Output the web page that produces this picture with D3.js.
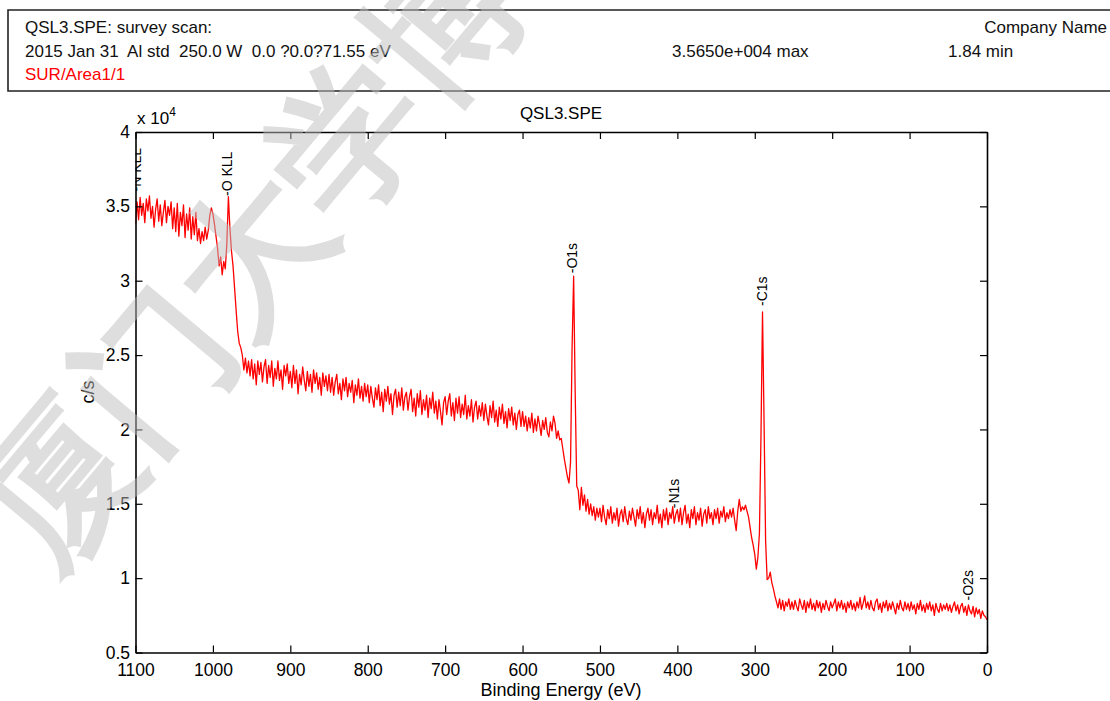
<!DOCTYPE html>
<html>
<head>
<meta charset="utf-8">
<script src="https://cdn.jsdelivr.net/npm/d3@7"></script>
<style>
  body { margin: 0; background: #fff; }
  svg text { font-family: "Liberation Sans", Arial, sans-serif; }
</style>
</head>
<body>
<div id="chart"></div>
<script>
// survey scan, binding energy grid 1100 -> 0 eV
const beStart = 1100
const beStep = 2

// counts in units of 1e4 c/s, one value per grid point
const countsE4 = [
  3.38, 3.53, 3.41, 3.56, 3.44, 3.52, 3.39, 3.55, 3.47, 3.57, 3.42, 3.50, 3.36, 3.48, 3.55, 3.40, 3.51, 3.37, 3.46, 3.54, 3.39, 3.50, 3.44, 3.53, 3.35,
  3.49, 3.33, 3.52, 3.30, 3.46, 3.37, 3.51, 3.29, 3.45, 3.34, 3.49, 3.28, 3.43, 3.31, 3.46, 3.27, 3.35, 3.25, 3.33, 3.27, 3.36, 3.28, 3.34, 3.44, 3.49,
  3.45, 3.38, 3.30, 3.22, 3.10, 3.16, 3.04, 3.13, 3.08, 3.25, 3.565, 3.35, 3.20, 3.10, 2.95, 2.80, 2.66, 2.58, 2.55, 2.50, 2.40, 2.48, 2.38, 2.46, 2.36,
  2.47, 2.34, 2.44, 2.30, 2.46, 2.37, 2.45, 2.32, 2.42, 2.47, 2.31, 2.43, 2.35, 2.46, 2.29, 2.41, 2.34, 2.46, 2.33, 2.40, 2.27, 2.43, 2.36, 2.44, 2.31,
  2.39, 2.28, 2.43, 2.31, 2.40, 2.24, 2.37, 2.30, 2.42, 2.33, 2.26, 2.39, 2.29, 2.37, 2.25, 2.40, 2.31, 2.38, 2.27, 2.35, 2.23, 2.38, 2.29, 2.36, 2.26,
  2.37, 2.25, 2.35, 2.23, 2.32, 2.37, 2.24, 2.31, 2.20, 2.34, 2.26, 2.35, 2.22, 2.31, 2.25, 2.33, 2.18, 2.30, 2.23, 2.34, 2.21, 2.29, 2.19, 2.31, 2.22,
  2.30, 2.18, 2.29, 2.21, 2.15, 2.28, 2.20, 2.30, 2.16, 2.25, 2.12, 2.27, 2.19, 2.29, 2.17, 2.24, 2.10, 2.23, 2.27, 2.15, 2.25, 2.16, 2.28, 2.13, 2.22,
  2.25, 2.13, 2.22, 2.27, 2.12, 2.21, 2.09, 2.24, 2.15, 2.26, 2.10, 2.20, 2.13, 2.23, 2.08, 2.21, 2.14, 2.25, 2.11, 2.19, 2.07, 2.20, 2.12, 2.03, 2.18,
  2.22, 2.10, 2.19, 2.24, 2.09, 2.18, 2.06, 2.21, 2.11, 2.22, 2.08, 2.17, 2.10, 2.23, 2.07, 2.16, 2.09, 2.20, 2.05, 2.15, 2.19, 2.07, 2.16, 2.09, 2.18,
  2.06, 2.17, 2.09, 2.03, 2.16, 2.08, 2.19, 2.05, 2.13, 2.02, 2.15, 2.07, 2.17, 2.04, 2.12, 2.01, 2.14, 2.06, 2.15, 2.03, 2.11, 2.00, 2.10, 2.13, 2.02,
  2.12, 2.02, 2.09, 1.99, 2.08, 2.01, 2.11, 1.98, 2.07, 1.99, 2.09, 2.03, 1.96, 2.06, 2.00, 2.08, 1.98, 1.95, 2.05, 1.99, 2.09, 2.04, 1.94, 1.99, 1.93,
  1.94, 1.87, 1.80, 1.74, 1.68, 1.64, 1.78, 2.55, 3.03, 2.25, 1.62, 1.59, 1.46, 1.61, 1.49, 1.56, 1.45, 1.53, 1.43, 1.50, 1.42, 1.48, 1.39, 1.47, 1.41,
  1.47, 1.38, 1.49, 1.41, 1.36, 1.46, 1.40, 1.48, 1.37, 1.44, 1.39, 1.47, 1.35, 1.43, 1.46, 1.38, 1.48, 1.40, 1.36, 1.45, 1.39, 1.47, 1.41, 1.35, 1.46,
  1.40, 1.48, 1.37, 1.44, 1.34, 1.43, 1.47, 1.39, 1.46, 1.36, 1.44, 1.40, 1.49, 1.37, 1.43, 1.34, 1.46, 1.39, 1.47, 1.36, 1.44, 1.40, 1.48, 1.37, 1.43,
  1.46, 1.38, 1.47, 1.36, 1.44, 1.49, 1.37, 1.43, 1.34, 1.46, 1.40, 1.48, 1.36, 1.44, 1.39, 1.47, 1.35, 1.43, 1.46, 1.37, 1.48, 1.40, 1.44, 1.36, 1.46,
  1.40, 1.47, 1.37, 1.45, 1.41, 1.48, 1.38, 1.44, 1.40, 1.46, 1.41, 1.47, 1.39, 1.32, 1.45, 1.53, 1.45, 1.48, 1.46, 1.49, 1.45, 1.41, 1.34, 1.27, 1.22,
  1.16, 1.06, 1.14, 1.30, 1.95, 2.79, 2.05, 1.25, 0.99, 1.00, 1.04, 0.97, 0.93, 0.88, 0.84, 0.80, 0.86, 0.79, 0.85, 0.78, 0.84, 0.81, 0.86, 0.79, 0.84,
  0.79, 0.85, 0.81, 0.78, 0.86, 0.82, 0.79, 0.85, 0.77, 0.84, 0.80, 0.86, 0.79, 0.83, 0.78, 0.85, 0.80, 0.84, 0.77, 0.83, 0.79, 0.85, 0.81, 0.78, 0.84,
  0.80, 0.83, 0.86, 0.78, 0.84, 0.80, 0.85, 0.79, 0.83, 0.77, 0.84, 0.80, 0.85, 0.79, 0.83, 0.78, 0.84, 0.80, 0.87, 0.79, 0.83, 0.88, 0.80, 0.84, 0.79,
  0.85, 0.80, 0.78, 0.84, 0.86, 0.79, 0.83, 0.77, 0.84, 0.80, 0.85, 0.78, 0.83, 0.79, 0.84, 0.80, 0.76, 0.83, 0.79, 0.85, 0.80, 0.78, 0.84, 0.79, 0.83,
  0.78, 0.84, 0.79, 0.82, 0.76, 0.83, 0.79, 0.85, 0.78, 0.82, 0.77, 0.83, 0.79, 0.84, 0.78, 0.82, 0.75, 0.83, 0.79, 0.77, 0.83, 0.78, 0.82, 0.79, 0.83,
  0.78, 0.82, 0.77, 0.81, 0.84, 0.78, 0.82, 0.76, 0.81, 0.83, 0.77, 0.81, 0.75, 0.82, 0.78, 0.76, 0.81, 0.74, 0.80, 0.76, 0.79, 0.73, 0.78, 0.75, 0.74,
  0.72
]

const xTicks = [1100, 1000, 900, 800, 700, 600, 500, 400, 300, 200, 100, 0]
const yTicks = [0.5, 1, 1.5, 2, 2.5, 3, 3.5, 4]

// peak labels: name, binding energy, height (1e4 c/s) where the label starts
const peakNames = ['-N KLL', '-O KLL', '-O1s', '-N1s', '-C1s', '-O2s']
const peakEnergies = [1099, 982, 536, 404, 290, 25]
const peakLevels = [3.60, 3.57, 3.05, 1.47, 2.83, 0.85]

const headerLine1 = 'QSL3.SPE: survey scan:'
const headerLine2 = '2015 Jan 31  Al std  250.0 W  0.0 ?0.0?71.55 eV'
const headerLine3 = 'SUR/Area1/1'
const headerMax = '3.5650e+004 max'
const headerTime = '1.84 min'
const headerCompany = 'Company Name'
const watermark = '厦门大学博硕'

const width = 1110
const height = 701
const plot = { left: 135.5, right: 987, top: 132, bottom: 652.5 }

const svg = d3.select('#chart')
  .append('svg')
  .attr('width', width)
  .attr('height', height)

const data = countsE4.map((v, i) => ({ be: beStart - i * beStep, v }))

const x = d3.scaleLinear().domain([1100, 0]).range([plot.left, plot.right])
const y = d3.scaleLinear().domain([0.5, 4]).range([plot.bottom, plot.top])

// header box
svg.append('path')
  .attr('d', `M${width + 5},10 H8 V91 H${width + 5}`)
  .attr('fill', 'none')
  .attr('stroke', '#222')
  .attr('stroke-width', 1.6)

const header = svg.append('g')
  .attr('font-size', 17)
  .attr('fill', '#111')

header.append('text').attr('x', 25).attr('y', 33).text(headerLine1)
header.append('text').attr('x', 25).attr('y', 57).attr('xml:space', 'preserve').text(headerLine2)
header.append('text').attr('x', 25).attr('y', 80).attr('fill', '#ff0000').text(headerLine3)
header.append('text').attr('x', 672).attr('y', 57).text(headerMax)
header.append('text').attr('x', 948).attr('y', 57).text(headerTime)
header.append('text').attr('x', 1107).attr('y', 33).attr('text-anchor', 'end').text(headerCompany)

// clip for the trace and the labels
svg.append('clipPath')
  .attr('id', 'plotClip')
  .append('rect')
  .attr('x', plot.left)
  .attr('y', plot.top)
  .attr('width', plot.right - plot.left)
  .attr('height', plot.bottom - plot.top)

const line = d3.line()
  .x(d => x(d.be))
  .y(d => y(d.v))

svg.append('path')
  .datum(data)
  .attr('clip-path', 'url(#plotClip)')
  .attr('fill', 'none')
  .attr('stroke', '#ff0000')
  .attr('stroke-width', 1.3)
  .attr('stroke-linejoin', 'round')
  .attr('d', line)

// axes, ticks pointing inward on all four sides
function styleAxis (g) {
  g.selectAll('path.domain').attr('stroke', '#000').attr('stroke-width', 1.6)
  g.selectAll('.tick line').attr('stroke', '#000').attr('stroke-width', 1.2)
  g.selectAll('.tick text').attr('fill', '#000').attr('font-size', 17.5)
    .attr('font-family', '"Liberation Sans", Arial, sans-serif')
}

svg.append('g')
  .attr('transform', `translate(0,${plot.bottom})`)
  .call(d3.axisBottom(x).tickValues(xTicks).tickSizeInner(-7).tickSizeOuter(0).tickPadding(11.5).tickFormat(d3.format('d')))
  .call(styleAxis)

svg.append('g')
  .attr('transform', `translate(0,${plot.top})`)
  .call(d3.axisTop(x).tickValues(xTicks).tickSizeInner(-7).tickSizeOuter(0).tickFormat(''))
  .call(styleAxis)

svg.append('g')
  .attr('transform', `translate(${plot.left},0)`)
  .call(d3.axisLeft(y).tickValues(yTicks).tickSizeInner(-7).tickSizeOuter(0).tickPadding(5.5).tickFormat(d3.format('')))
  .call(styleAxis)

svg.append('g')
  .attr('transform', `translate(${plot.right},0)`)
  .call(d3.axisRight(y).tickValues(yTicks).tickSizeInner(-7).tickSizeOuter(0).tickFormat(''))
  .call(styleAxis)

// peak labels
svg.append('g')
  .attr('clip-path', 'url(#plotClip)')
  .selectAll('text')
  .data(peakNames)
  .join('text')
  .attr('transform', (d, i) => `translate(${x(peakEnergies[i])},${y(peakLevels[i])}) rotate(-90)`)
  .attr('dy', '0.35em')
  .attr('font-size', 14)
  .attr('fill', '#000')
  .text(d => d)

// titles
svg.append('text')
  .attr('x', 561).attr('y', 119)
  .attr('text-anchor', 'middle')
  .attr('font-size', 17)
  .text('QSL3.SPE')

const mult = svg.append('text')
  .attr('x', 137).attr('y', 124)
  .attr('font-size', 17)
mult.append('tspan').text('x 10')
mult.append('tspan').attr('dy', -8).attr('font-size', 12).text('4')

svg.append('text')
  .attr('x', 561).attr('y', 696)
  .attr('text-anchor', 'middle')
  .attr('font-size', 18)
  .text('Binding Energy (eV)')

svg.append('text')
  .attr('transform', 'translate(94,392) rotate(-90)')
  .attr('text-anchor', 'middle')
  .attr('font-size', 18)
  .text('c/s')

// watermark over the page
svg.append('text')
  .attr('transform', 'translate(10,540) rotate(-50)')
  .attr('dominant-baseline', 'central')
  .attr('font-family', '"Noto Sans CJK SC", sans-serif')
  .attr('font-weight', 700)
  .attr('font-size', 150)
  .attr('fill', '#bdbdbd')
  .attr('fill-opacity', 0.5)
  .text(watermark)
</script>
</body>
</html>
